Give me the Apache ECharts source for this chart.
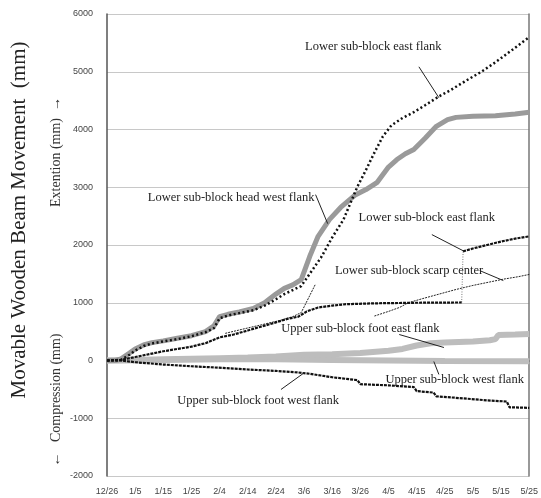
<!DOCTYPE html>
<html><head><meta charset="utf-8">
<script src="https://cdn.jsdelivr.net/npm/echarts@6/dist/echarts.min.js"></script>
<style>html,body{margin:0;padding:0;background:#fff}#c{width:541px;height:498px}</style>
</head><body><div id="c"></div>
<script>
// x = days since 12/26
const xTickLabels = ['12/26','1/5','1/15','1/25','2/4','2/14','2/24','3/6','3/16','3/26','4/5','4/15','4/25','5/5','5/15','5/25'];

const lowerEastFlankA = [[0,0],[5,10],[8,100],[10,170],[13,250],[16,295],[20,330],[25,370],[30,420],[35,490],[38,560],[40,730],[43,780],[47,820],[52,870],[56,950],[60,1060],[63,1150],[66,1220],[69,1290],[72,1500],[76,1780],[80,2130],[84,2440],[89,3015],[92,3300],[95,3600],[98,3880],[101,4070],[105,4200],[109,4300],[113,4420],[118,4575],[122,4680],[127,4830],[133,5000],[138,5165],[144,5380],[150,5600]];
const lowerHeadWestFlank = [[0,0],[3,0],[5,30],[8,130],[10,200],[13,270],[16,310],[20,340],[25,385],[30,430],[35,500],[38,600],[40,760],[43,800],[47,840],[52,900],[56,1000],[60,1150],[63,1250],[66,1310],[69,1400],[72,1800],[75,2150],[79,2440],[83,2650],[88,2860],[92,2960],[96,3085],[100,3350],[103,3480],[106,3580],[109,3655],[113,3850],[117,4055],[121,4170],[124,4210],[130,4230],[138,4240],[145,4270],[150,4300]];
const lowerEastFlankB1 = [[0,0],[5,10],[10,60],[15,110],[20,160],[25,200],[30,240],[35,300],[40,400],[45,450],[50,520],[55,590],[60,660],[64,720],[68,760],[71,850],[75,918],[80,950],[85,975],[95,990],[110,1000],[126,1005]];
const lowerEastFlankB2 = [[126.5,1890],[130,1940],[135,2000],[140,2060],[145,2110],[150,2150]];
const lowerScarpCenter = [[42,470],[48,540],[55,620],[62,700],[66,760],[69,830],[74,1317],[null,null],[95,770],[100,850],[104,920],[107,1000],[112,1070],[118,1150],[124,1230],[130,1300],[136,1360],[141,1410],[146,1450],[150,1490]];
const upperFootEastFlank = [[0,0],[10,10],[20,20],[30,30],[40,40],[50,50],[60,70],[70,100],[80,110],[90,130],[100,170],[105,200],[110,260],[115,300],[120,310],[125,320],[130,330],[136,350],[138,370],[139,440],[145,450],[150,460]];
const upperWestFlank = [[0,0],[20,10],[40,20],[60,20],[80,10],[100,0],[120,-10],[150,-15]];
const upperFootWestFlank = [[0,0],[5,0],[10,-30],[20,-70],[30,-100],[38,-120],[50,-156],[60,-180],[68,-208],[72,-230],[76,-260],[80,-290],[89,-340],[90,-410],[100,-430],[109,-460],[110,-530],[116,-555],[117,-620],[125,-650],[135,-690],[142,-710],[143,-810],[150,-820]];

const notes = [
  {text:'Lower sub-block east flank', at:[94.6,5432], from:[110.8,5086], to:[117.9,4550]},
  {text:'Lower sub-block head west flank', at:[44.1,2820], from:[74.1,2872], to:[78.4,2370]},
  {text:'Lower sub-block east flank', at:[113.6,2474], from:[115.4,2180], to:[127.1,1886]},
  {text:'Lower sub-block scarp center', at:[107.3,1557], from:[132.4,1557], to:[140.8,1384]},
  {text:'Upper sub-block foot east flank', at:[90,554], from:[103.8,450], to:[119.7,225]},
  {text:'Upper sub-block west flank', at:[123.5,-329], from:[116.1,-17], to:[117.9,-242]},
  {text:'Upper sub-block foot west flank', at:[53.7,-692], from:[61.8,-502], to:[70.2,-208]}
];

const chart = echarts.init(document.getElementById('c'));
const axisLabelStyle = {fontFamily:'Liberation Sans', fontSize:9, color:'#444'};
function line(name, data, color, width, type, z) {
  return {name, type:'line', data, showSymbol:false, symbol:'none', connectNulls:false, z,
    lineStyle:{color, width, type}, emphasis:{disabled:true}, animation:false};
}
const jump = [lowerEastFlankB1[lowerEastFlankB1.length-1], lowerEastFlankB2[0]];
chart.setOption({
  animation:false,
  grid:{left:107, right:8, top:14, bottom:22},
  xAxis:{type:'value', min:0, max:150, interval:10,
    axisLine:{show:true, lineStyle:{color:'#666', width:1.5}}, axisTick:{show:false},
    splitLine:{show:false},
    axisLabel:Object.assign({margin:11, formatter:v=>xTickLabels[Math.round(v/10)]}, axisLabelStyle)},
  yAxis:[{type:'value', min:-2000, max:6000, interval:1000,
    axisLine:{show:true, lineStyle:{color:'#555', width:1.5}}, axisTick:{show:false},
    splitLine:{show:true, lineStyle:{color:'#c8c8c8', width:1}},
    axisLabel:Object.assign({margin:14, formatter:v=>String(v)}, axisLabelStyle)},
    {type:'value', min:-2000, max:6000, interval:1000, position:'right',
    axisLine:{show:true, lineStyle:{color:'#777', width:1.5}}, axisTick:{show:false},
    splitLine:{show:false}, axisLabel:{show:false}}],
  series:[
    line('Upper sub-block west flank', upperWestFlank, '#bdbdbd', 6, 'solid', 1),
    line('Upper sub-block foot east flank', upperFootEastFlank, '#bdbdbd', 6, 'solid', 2),
    line('Lower sub-block head west flank', lowerHeadWestFlank, '#9a9a9a', 5, 'solid', 3),
    line('Lower sub-block scarp center', lowerScarpCenter, '#222', 1, [2,1], 4),
    line('Lower sub-block east flank (2)', lowerEastFlankB1, '#111', 2.2, [3,1], 5),
    line('Lower sub-block east flank (2) jump', jump, '#555', 0.8, [1,1.5], 5),
    line('Lower sub-block east flank (2) later', lowerEastFlankB2, '#111', 2.2, [3,1], 5),
    line('Upper sub-block foot west flank', upperFootWestFlank, '#111', 2.2, [3,1], 6),
    line('Lower sub-block east flank', lowerEastFlankA, '#111', 2.5, [2,2.5], 7)
  ]
});

const g = [];
notes.forEach(n => {
  const p = chart.convertToPixel({gridIndex:0}, n.at);
  const a = chart.convertToPixel({gridIndex:0}, n.from);
  const b = chart.convertToPixel({gridIndex:0}, n.to);
  g.push({type:'text', x:p[0], y:p[1], z:20, style:{text:n.text, font:'12.5px "Liberation Serif"', fill:'#222', textAlign:'center', textVerticalAlign:'middle'}});
  g.push({type:'line', z:20, shape:{x1:a[0], y1:a[1], x2:b[0], y2:b[1]}, style:{stroke:'#222', lineWidth:1}});
});
g.push({type:'text', x:19, y:220, rotation:Math.PI/2, style:{text:'Movable Wooden Beam Movement  (mm)', font:'21px "Liberation Serif"', fill:'#222', textAlign:'center', textVerticalAlign:'middle'}});
g.push({type:'text', x:56, y:152, rotation:Math.PI/2, style:{text:'Extention (mm)  \u2192', font:'14px "Liberation Serif"', fill:'#333', textAlign:'center', textVerticalAlign:'middle'}});
g.push({type:'text', x:56, y:400, rotation:Math.PI/2, style:{text:'\u2190   Compression (mm)', font:'14px "Liberation Serif"', fill:'#333', textAlign:'center', textVerticalAlign:'middle'}});
chart.setOption({graphic:g});
</script></body></html>
